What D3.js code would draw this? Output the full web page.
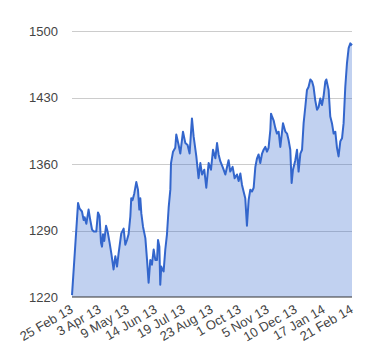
<!DOCTYPE html>
<html>
<head>
<meta charset="utf-8">
<script src="https://cdn.jsdelivr.net/npm/d3@7/dist/d3.min.js"></script>
<style>
  html, body { margin: 0; padding: 0; background: #fff; }
  svg { display: block; }
  text { font-family: "Liberation Sans", Arial, sans-serif; }
</style>
</head>
<body>
<svg id="chart" width="380" height="360"></svg>
<script>
// Trading-day index (0 = 25 Feb 13, 250 = 21 Feb 14) and closing values
const dayIndex = [
  0, 5.4, 6.8, 8.9, 10.4, 11.3, 12.8, 14.8, 16.3, 17.9, 19.3, 21.7, 23.2, 24.6, 25.9, 26.8,
  27.7, 28.8, 30.4, 31.8, 33.6, 35.1, 36.3, 37.1, 38.7, 40.2, 41.6, 44.0, 46.1, 47.6, 49.1,
  50.5, 52.1, 52.9, 54.1, 55.6, 57.4, 58.9, 60.1, 61.0, 61.9, 63.4, 65.5, 67.0, 68.4, 69.9,
  71.4, 72.9, 74.4, 75.9, 76.8, 78.0, 78.8, 79.7, 80.6, 81.8, 83.3, 84.8, 86.3, 87.8, 88.4,
  90.2, 92.2, 93.1, 95.2, 96.7, 99.1, 101.2, 103.2, 105.0, 107.1, 108.6, 111.0, 113.0, 114.6,
  116.1, 118.1, 119.9, 122.0, 124.1, 125.9, 128.0, 129.5, 130.9, 132.4, 134.8, 136.9, 139.8,
  141.3, 143.4, 145.2, 147.3, 148.8, 150.3, 151.8, 153.2, 154.7, 156.2, 157.7, 159.2, 160.7,
  162.2, 163.7, 165.2, 166.6, 168.1, 169.7, 171.1, 172.6, 174.1, 175.5, 177.1, 177.7, 178.6,
  180.0, 181.5, 183.0, 184.5, 186.0, 188.4, 190.5, 192.0, 193.4, 194.9, 196.1, 197.3, 199.4,
  200.9, 202.3, 203.9, 205.4, 206.8, 208.3, 209.8, 211.2, 212.8, 214.3, 215.7, 217.2, 218.8,
  220.2, 221.7, 223.2, 224.6, 226.2, 227.1, 229.1, 230.6, 232.1, 233.6, 235.1, 236.6, 238.0,
  239.6, 241.1, 242.5, 244.0, 245.5, 247.0, 248.5, 250.0
];
const closeValues = [
  1222, 1319, 1313, 1310, 1301, 1304, 1297, 1312, 1301, 1291, 1289, 1289, 1309, 1305, 1277, 1273,
  1286, 1279, 1295, 1289, 1277, 1266, 1256, 1249, 1263, 1252, 1266, 1287, 1292, 1275, 1280,
  1286, 1305, 1324, 1322, 1329, 1341, 1333, 1312, 1324, 1308, 1294, 1282, 1259, 1235, 1259,
  1254, 1270, 1259, 1259, 1280, 1273, 1233, 1252, 1249, 1247, 1270, 1286, 1314, 1333, 1361,
  1373, 1377, 1391, 1380, 1371, 1394, 1382, 1380, 1371, 1408, 1389, 1368, 1345, 1361,
  1349, 1354, 1335, 1361, 1354, 1375, 1366, 1382, 1370, 1363, 1356, 1349, 1364,
  1352, 1357, 1345, 1349, 1342, 1350, 1338, 1331, 1324, 1295, 1322, 1333, 1331,
  1335, 1357, 1366, 1370, 1361, 1371, 1375, 1378, 1373, 1377, 1396, 1413, 1410,
  1406, 1398, 1392, 1394, 1378, 1403, 1394, 1392, 1385, 1375, 1340, 1354, 1364,
  1375, 1352, 1371, 1375, 1403, 1420, 1438, 1441, 1449, 1447, 1441, 1427, 1417,
  1420, 1429, 1422, 1431, 1447, 1449, 1438, 1410, 1403, 1392, 1394, 1377, 1368,
  1384, 1387, 1403, 1441, 1466, 1482, 1487, 1485
];
const tickDays = [0, 25, 50, 75, 100, 125, 150, 175, 200, 225, 250];
const tickLabels = ["25 Feb 13", "3 Apr 13", "9 May 13", "14 Jun 13", "19 Jul 13", "23 Aug 13",
  "1 Oct 13", "5 Nov 13", "10 Dec 13", "17 Jan 14", "21 Feb 14"];
const yTicks = [1220, 1290, 1360, 1430, 1500];

const svg = d3.select("#chart");
const x = d3.scaleLinear().domain([0, 250]).range([72, 352]);
const y = d3.scaleLinear().domain([1220, 1500]).range([297, 31]);

const data = dayIndex.map((d, i) => ({ d, v: closeValues[i] }));

// gridlines
svg.append("g").selectAll("line").data(yTicks.slice(1)).join("line")
  .attr("x1", 72).attr("x2", 352)
  .attr("y1", d => Math.round(y(d)) + 0.5).attr("y2", d => Math.round(y(d)) + 0.5)
  .attr("stroke", "#cccccc").attr("stroke-width", 1);

// y labels
svg.append("g").selectAll("text").data(yTicks).join("text")
  .attr("x", 58).attr("y", d => y(d)).attr("dy", "0.35em")
  .attr("text-anchor", "end").attr("font-size", 13).attr("fill", "#444")
  .text(d => d);

// area
const area = d3.area().x(p => x(p.d)).y0(y(1220)).y1(p => y(p.v));
svg.append("path").datum(data).attr("d", area)
  .attr("fill", "#3366cc").attr("fill-opacity", 0.3);

// line
const line = d3.line().x(p => x(p.d)).y(p => y(p.v));
svg.append("path").datum(data).attr("d", line)
  .attr("fill", "none").attr("stroke", "#3366cc").attr("stroke-width", 2)
  .attr("stroke-linejoin", "round");

// baseline
svg.append("line").attr("x1", 72).attr("x2", 352)
  .attr("y1", y(1220)).attr("y2", y(1220))
  .attr("stroke", "#333").attr("stroke-width", 1.2);

// x labels
svg.append("g").selectAll("text").data(tickDays).join("text")
  .attr("transform", (d) => `translate(${x(d) + 2},${312}) rotate(-30)`)
  .attr("text-anchor", "end").attr("font-size", 13).attr("fill", "#444")
  .text((d, i) => tickLabels[i]);
</script>
</body>
</html>
